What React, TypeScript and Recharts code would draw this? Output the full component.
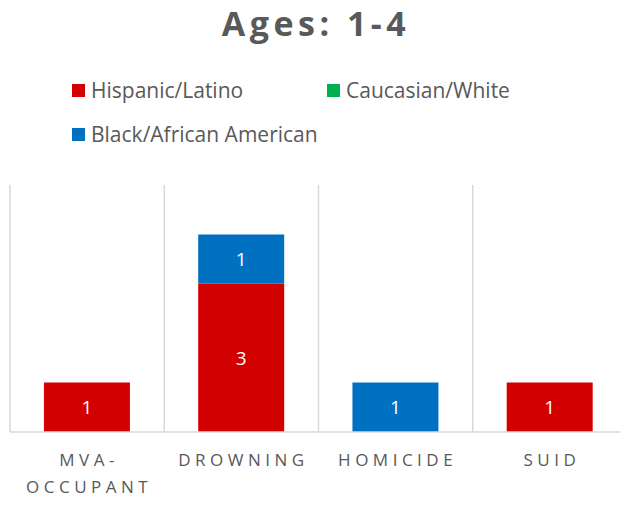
import React from 'react';
import { BarChart, Bar, XAxis, YAxis, CartesianGrid, LabelList } from 'recharts';

const categories = ['MVA-\nOCCUPANT', 'DROWNING', 'HOMICIDE', 'SUID'];
const hispanic = [1, 3, 0, 1];
const white = [0, 0, 0, 0];
const black = [0, 1, 1, 0];

const seriesNames = ['Hispanic/Latino', 'Caucasian/White', 'Black/African American'];
const seriesColors = ['#D20000', '#00B050', '#0070C0'];

const data = categories.map((c, i) => ({
  name: c,
  hispanic: hispanic[i],
  white: white[i],
  black: black[i],
}));

const FONT = '"Open Sans", Calibri, sans-serif';
const TEXT = '#595959';

// Étiquette d'axe en majuscules espacées, sur plusieurs lignes si besoin
const CategoryTick = (props: any) => {
  const { x, y, payload } = props;
  const lines = String(payload.value).split('\n');
  return (
    <g transform={`translate(${x + 2},${y})`}>
      {lines.map((l, i) => (
        <text
          key={i}
          x={0}
          y={26 + i * 27}
          textAnchor="middle"
          fill={TEXT}
          fontSize={17}
          fontFamily={FONT}
          letterSpacing={4.5}
        >
          {l}
        </text>
      ))}
    </g>
  );
};

const hideZero = (v: any) => (v ? v : '');

export default function App() {
  const legendItem = (i: number, left: number, top: number) => (
    <div
      key={i}
      style={{ position: 'absolute', left, top, display: 'flex', alignItems: 'center' }}
    >
      <span style={{ width: 13, height: 13, background: seriesColors[i], marginRight: 6 }} />
      <span style={{ fontSize: 21, color: TEXT, fontFamily: FONT }}>{seriesNames[i]}</span>
    </div>
  );

  return (
    <div
      style={{
        position: 'absolute',
        left: 0,
        top: 0,
        width: 620,
        height: 508,
        overflow: 'hidden',
        background: '#fff',
      }}
    >
      <div
        style={{
          position: 'absolute',
          top: 0,
          left: 6,
          width: 620,
          textAlign: 'center',
          fontFamily: FONT,
          fontWeight: 700,
          fontSize: 34,
          color: TEXT,
          letterSpacing: 4.5,
        }}
      >
        Ages: 1-4
      </div>
      {legendItem(0, 72, 76)}
      {legendItem(1, 327, 76)}
      {legendItem(2, 72, 120)}
      <div style={{ position: 'absolute', top: 170, left: 0 }}>
        <BarChart
          width={640}
          height={338}
          data={data}
          margin={{ top: 15, right: 13, left: 10, bottom: 0 }}
          barCategoryGap="22%"
        >
          <CartesianGrid
            horizontal={false}
            stroke="#d9d9d9"
            strokeWidth={1.5}
            verticalCoordinatesGenerator={({ offset }: any) => {
              const step = offset.width / categories.length;
              return categories.map((_, i) => offset.left + i * step).concat(offset.left + offset.width);
            }}
          />
          <XAxis
            dataKey="name"
            interval={0}
            tickLine={false}
            axisLine={{ stroke: '#d9d9d9', strokeWidth: 1.5 }}
            tick={<CategoryTick />}
            height={76}
          />
          <YAxis hide domain={[0, 5]} />
          <Bar dataKey="hispanic" stackId="a" fill={seriesColors[0]} isAnimationActive={false}>
            <LabelList dataKey="hispanic" position="center" fill="#fff" fontSize={19} fontFamily={FONT} formatter={hideZero} />
          </Bar>
          <Bar dataKey="white" stackId="a" fill={seriesColors[1]} isAnimationActive={false}>
            <LabelList dataKey="white" position="center" fill="#fff" fontSize={19} fontFamily={FONT} formatter={hideZero} />
          </Bar>
          <Bar dataKey="black" stackId="a" fill={seriesColors[2]} isAnimationActive={false}>
            <LabelList dataKey="black" position="center" fill="#fff" fontSize={19} fontFamily={FONT} formatter={hideZero} />
          </Bar>
        </BarChart>
      </div>
    </div>
  );
}
